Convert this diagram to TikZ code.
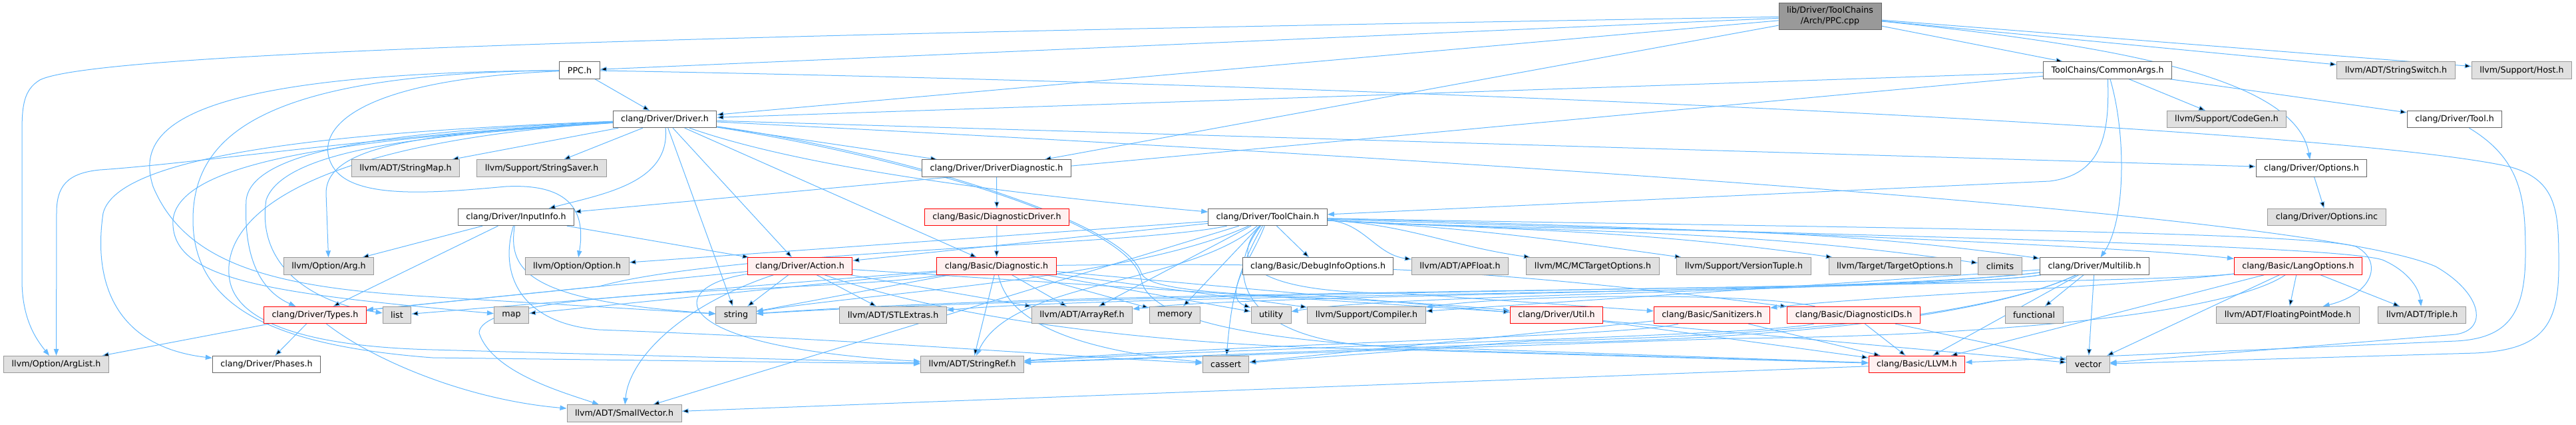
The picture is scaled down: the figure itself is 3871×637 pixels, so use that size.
\documentclass[tikz,border=0pt]{standalone}
\usepackage{fontspec}
\setmainfont{DejaVu Sans}
\usetikzlibrary{arrows.meta,backgrounds}
\definecolor{docline}{HTML}{666666}
\definecolor{extline}{HTML}{999999}
\definecolor{extfill}{HTML}{E0E0E0}
\definecolor{cutfill}{HTML}{FFF0F0}
\definecolor{rootfill}{HTML}{999999}
\definecolor{inclblue}{HTML}{63B8FF}

\begin{document}
\begin{tikzpicture}[x=0.75pt,y=-0.75pt,every node/.style={font=\fontsize{9.5}{11.5}\selectfont}]
    \tikzset{
      filebox/.style={line width=0.75pt,minimum height=19pt,inner xsep=9pt,inner ysep=0pt},
      docbox/.style={filebox,draw=docline,fill=white},
      extbox/.style={filebox,draw=extline,fill=extfill},
      cutbox/.style={filebox,draw=red,fill=cutfill},
      rootbox/.style={filebox,draw=docline,fill=rootfill,align=center,minimum height=30pt},
      incl/.style={draw=inclblue,line width=0.75pt,-{Triangle[length=7.5pt,width=5.5pt]}}
    }
    \useasboundingbox (0,0) rectangle (3871,637);

    % the file itself
    \node[rootbox] (ppccpp) at (2750,24) {lib/Driver/ToolChains\\/Arch/PPC.cpp};

    % rank 1
    \node[docbox] (ppch) at (871,105.5) {PPC.h};
    \node[docbox] (commonargs) at (3167,105.5) {ToolChains/CommonArgs.h};
    \node[extbox] (stringswitch) at (3600.5,105.5) {llvm/ADT/StringSwitch.h};
    \node[extbox] (host) at (3789.5,105.5) {llvm/Support/Host.h};

    % rank 2
    \node[docbox] (driver) at (999,179) {clang/Driver/Driver.h};
    \node[extbox] (codegen) at (3346,179) {llvm/Support/CodeGen.h};
    \node[docbox] (tool) at (3688.5,179) {clang/Driver/Tool.h};

    % rank 3
    \node[extbox] (stringmap) at (609.5,252.5) {llvm/ADT/StringMap.h};
    \node[extbox] (stringsaver) at (814,252.5) {llvm/Support/StringSaver.h};
    \node[docbox] (driverdiag) at (1497.5,252.5) {clang/Driver/DriverDiagnostic.h};
    \node[docbox] (options) at (3473.5,252.5) {clang/Driver/Options.h};

    % rank 4
    \node[docbox] (inputinfo) at (775.5,326) {clang/Driver/InputInfo.h};
    \node[cutbox] (diagdriver) at (1498,326) {clang/Basic/DiagnosticDriver.h};
    \node[docbox] (toolchain) at (1905,326) {clang/Driver/ToolChain.h};
    \node[extbox] (optionsinc) at (3496.5,326) {clang/Driver/Options.inc};

    % rank 5
    \node[extbox] (arg) at (494,399.5) {llvm/Option/Arg.h};
    \node[extbox] (option) at (867,399.5) {llvm/Option/Option.h};
    \node[cutbox] (action) at (1202,399.5) {clang/Driver/Action.h};
    \node[cutbox] (diagnostic) at (1497.5,399.5) {clang/Basic/Diagnostic.h};
    \node[docbox] (debuginfo) at (1980.5,399.5) {clang/Basic/DebugInfoOptions.h};
    \node[extbox] (apfloat) at (2194,399.5) {llvm/ADT/APFloat.h};
    \node[extbox] (mctarget) at (2393.5,399.5) {llvm/MC/MCTargetOptions.h};
    \node[extbox] (versiontuple) at (2620.5,399.5) {llvm/Support/VersionTuple.h};
    \node[extbox] (targetopts) at (2847.5,399.5) {llvm/Target/TargetOptions.h};
    \node[extbox] (climits) at (3005.5,399.5) {climits};
    \node[docbox] (multilib) at (3147.5,399.5) {clang/Driver/Multilib.h};
    \node[cutbox] (langopts) at (3453.5,399.5) {clang/Basic/LangOptions.h};

    % rank 6
    \node[cutbox] (types) at (473.5,473) {clang/Driver/Types.h};
    \node[extbox] (list) at (596.5,473) {list};
    \node[extbox] (map) at (768.5,473) {map};
    \node[extbox] (string) at (1106,473) {string};
    \node[extbox] (stlextras) at (1342,473) {llvm/ADT/STLExtras.h};
    \node[extbox] (arrayref) at (1626,473) {llvm/ADT/ArrayRef.h};
    \node[extbox] (memory) at (1765.5,473) {memory};
    \node[extbox] (utility) at (1910,473) {utility};
    \node[extbox] (compiler) at (2053.5,473) {llvm/Support/Compiler.h};
    \node[cutbox] (util) at (2339,473) {clang/Driver/Util.h};
    \node[cutbox] (sanitizers) at (2572.5,473) {clang/Basic/Sanitizers.h};
    \node[cutbox] (diagids) at (2785.5,473) {clang/Basic/DiagnosticIDs.h};
    \node[extbox] (functional) at (3056.5,473) {functional};
    \node[extbox] (fpmode) at (3438,473) {llvm/ADT/FloatingPointMode.h};
    \node[extbox] (triple) at (3639.5,473) {llvm/ADT/Triple.h};

    % rank 7
    \node[extbox] (arglist) at (84.5,547) {llvm/Option/ArgList.h};
    \node[docbox] (phases) at (400.5,547) {clang/Driver/Phases.h};
    \node[extbox] (stringref) at (1461,547) {llvm/ADT/StringRef.h};
    \node[extbox] (cassert) at (1842,547) {cassert};
    \node[cutbox] (llvm) at (2880.5,547) {clang/Basic/LLVM.h};
    \node[extbox] (vector) at (3138,547) {vector};

    % rank 8
    \node[extbox] (smallvector) at (938,620.5) {llvm/ADT/SmallVector.h};

    \begin{scope}[on background layer]
      % PPC.cpp
      \path[incl] (ppccpp) edge (ppch) edge (driver) edge (driverdiag) edge (commonargs)
        edge (stringswitch) edge (host);
      \draw[incl] (ppccpp) .. controls (3200,70) and (3450,120) .. (options);
      \draw[incl] (ppccpp) .. controls (1200,50) and (150,75) .. (60,120)
        .. controls (35,135) and (33,160) .. (33,200) -- (33,420)
        .. controls (33,480) and (55,510) .. (arglist);

      % PPC.h
      \path[incl] (ppch) edge (driver);
      \draw[incl] (ppch) .. controls (520,120) and (470,200) .. (500,250)
        .. controls (530,300) and (650,290) .. (760,280)
        .. controls (860,275) and (880,320) .. (option);
      \draw[incl] (ppch) .. controls (250,110) and (205,200) .. (230,280)
        .. controls (280,400) and (420,432) .. (640,445) -- (string);
      \draw[incl] (ppch) .. controls (400,110) and (290,200) .. (290,330)
        .. controls (290,470) and (430,520) .. (650,537) -- (stringref);
      \draw[incl] (ppch) .. controls (2000,125) and (3500,190) .. (3770,250)
        .. controls (3845,270) and (3845,320) .. (3845,400)
        .. controls (3845,490) and (3820,525) .. (3720,530) -- (vector);

      % Driver.h
      \path[incl] (driver) edge (stringmap) edge (stringsaver) edge (string) edge (action)
        edge (diagnostic) edge (driverdiag) edge (options)
        edge[out=-85,in=15] (inputinfo);
      \draw[incl] (driver) .. controls (1200,250) and (1500,290) .. (toolchain);
      \draw[incl] (driver) .. controls (1330,225) and (1690,330) .. (1715,410)
        .. controls (1730,450) and (2000,440) .. (util);
      \draw[incl] (driver) .. controls (1330,230) and (1700,330) .. (1715,420)
        .. controls (1730,500) and (2000,515) .. (2150,525) -- (llvm);
      \draw[incl] (driver) .. controls (600,200) and (300,245) .. (150,255)
        .. controls (100,260) and (85,280) .. (85,320) -- (arglist);
      \draw[incl] (driver) .. controls (600,195) and (180,220) .. (155,320)
        .. controls (140,420) and (170,520) .. (phases);
      \draw[incl] (driver) .. controls (650,195) and (380,215) .. (370,300)
        .. controls (365,400) and (400,440) .. (types);
      \draw[incl] (driver) .. controls (700,200) and (430,215) .. (400,300)
        .. controls (385,400) and (470,455) .. (list);
      \draw[incl] (driver) .. controls (650,200) and (490,215) .. (490,290) -- (arg);
      \draw[incl] (driver) .. controls (600,205) and (270,230) .. (260,330)
        .. controls (255,420) and (400,440) .. (map);
      \draw[incl] (driver) .. controls (450,215) and (330,330) .. (345,420)
        .. controls (355,480) and (450,520) .. (650,525) -- (stringref);
      \draw[incl] (driver) .. controls (2500,255) and (3500,330) .. (3660,400)
        .. controls (3730,440) and (3740,495) .. (3690,502) -- (vector);

      % InputInfo.h
      \path[incl] (inputinfo) edge (action) edge (types) edge (arg);
      \draw[incl] (inputinfo) .. controls (750,410) and (780,485) .. (900,495)
        .. controls (1300,510) and (1600,535) .. (cassert);
      \draw[incl] (inputinfo) .. controls (762,410) and (800,452) .. (string);

      % Action.h
      \path[incl] (action) edge (types) edge (util) edge (arrayref) edge (stlextras)
        edge (string);
      \draw[incl] (action) .. controls (1400,470) and (1700,520) .. (2100,525) -- (llvm);
      \draw[incl] (action) .. controls (1000,430) and (990,520) .. (stringref);
      \draw[incl] (action) .. controls (1020,460) and (945,540) .. (smallvector);

      % Types.h
      \path[incl] (types) edge (phases) edge (arglist);
      \draw[incl] (types) .. controls (560,540) and (700,600) .. (smallvector);

      % diagnostics
      \path[incl] (driverdiag) edge (diagdriver);
      \path[incl] (diagdriver) edge (diagnostic);
      \path[incl] (diagnostic) edge[bend left=4] (diagids) edge (arrayref) edge (stringref)
        edge (compiler) edge (list) edge (map) edge (memory) edge (string) edge (utility)
        edge (vector);
      \draw[incl] (diagnostic) .. controls (1510,460) and (1560,520) .. (cassert);
      \draw[incl] (diagnostic) .. controls (1250,440) and (720,430) .. (720,500)
        .. controls (740,560) and (850,590) .. (smallvector);

      % ToolChain.h
      \path[incl] (toolchain) edge (debuginfo) edge[out=-3,in=172] (apfloat)
        edge[out=-3,in=172] (mctarget) edge[out=-3,in=172] (versiontuple)
        edge[out=-3,in=172] (targetopts) edge[out=-3,in=172] (climits)
        edge[out=-3,in=172] (multilib) edge (action) edge (option)
        edge (arrayref) edge (smallvector) edge (memory)
        edge[out=-120,in=85] (cassert) edge[out=-110,in=160] (utility);
      \draw[incl] (toolchain) .. controls (1700,370) and (1100,375) .. (900,430) -- (types);
      \draw[incl] (toolchain) .. controls (1700,420) and (1300,440) .. (string);
      \draw[incl] (toolchain) .. controls (1780,430) and (1520,420) .. (stringref);
      \draw[incl] (toolchain) .. controls (1840,400) and (1900,440) .. (2100,440) -- (sanitizers);
      \draw[incl] (toolchain) .. controls (1830,420) and (1880,520) .. (2100,520) -- (llvm);
      \draw[incl] (toolchain) .. controls (2500,340) and (3200,370) .. (langopts);
      \draw[incl] (toolchain) .. controls (2600,340) and (3450,345) .. (3540,370)
        .. controls (3580,390) and (3570,440) .. (fpmode);
      \draw[incl] (toolchain) .. controls (2600,350) and (3500,365) .. (3580,390)
        .. controls (3615,405) and (3635,430) .. (triple);

      % Multilib.h
      \path[incl] (multilib) edge (llvm) edge (compiler) edge (functional) edge (vector);
      \draw[incl] (multilib) .. controls (2900,440) and (1700,430) .. (string);
      \draw[incl] (multilib) .. controls (2900,440) and (1700,440) .. (stlextras);
      \draw[incl] (multilib) .. controls (2800,440) and (1900,440) .. (arrayref);
      \draw[incl] (multilib) .. controls (2800,440) and (2100,440) .. (utility);
      \draw[incl] (multilib) .. controls (3000,470) and (2700,510) .. (2300,515) -- (stringref);
      \draw[incl] (multilib) .. controls (3000,470) and (2700,505) .. (2300,512) -- (cassert);

      % LangOptions.h
      \path[incl] (langopts) edge (llvm) edge (fpmode) edge (triple) edge (vector);
      \draw[incl] (langopts) .. controls (3200,430) and (1700,435) .. (string);
      \draw[incl] (langopts) .. controls (3350,470) and (3000,505) .. (2600,508) -- (stringref);
      \draw[incl] (langopts) .. controls (3200,430) and (2800,445) .. (sanitizers);

      % basic headers
      \path[incl] (sanitizers) edge (llvm) edge (cassert);
      \draw[incl] (sanitizers) .. controls (2450,505) and (1900,515) .. (stringref);
      \path[incl] (diagids) edge (llvm) edge (vector);
      \draw[incl] (diagids) .. controls (2640,440) and (2300,440) .. (compiler);
      \draw[incl] (diagids) .. controls (2640,505) and (1900,520) .. (stringref);
      \path[incl] (util) edge (llvm);
      \path[incl] (llvm) edge (smallvector);
      \path[incl] (options) edge (optionsinc);

      % CommonArgs.h
      \path[incl] (commonargs) edge (driver) edge (inputinfo) edge (tool) edge (codegen);
      \draw[incl] (commonargs) .. controls (3170,200) and (3160,262) .. (3080,272) -- (toolchain);
      \draw[incl] (commonargs) .. controls (3195,200) and (3195,330) .. (multilib);

      % Tool.h
      \draw[incl] (tool) .. controls (3790,240) and (3795,300) .. (3795,380)
        .. controls (3795,470) and (3770,508) .. (3690,512) -- (llvm);
    \end{scope}
  \end{tikzpicture}
\end{document}
